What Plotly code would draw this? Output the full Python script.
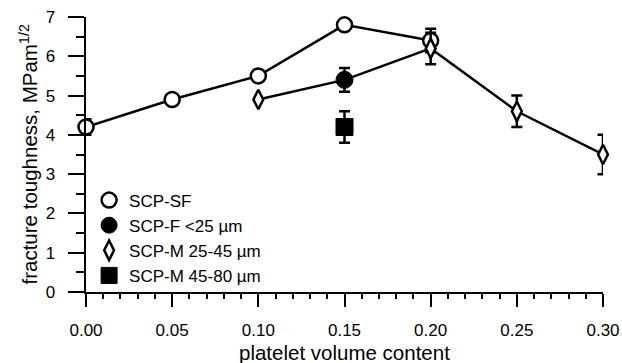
import plotly.graph_objects as go

# SCP-SF (open circles)
sf_x = [0.00, 0.05, 0.10, 0.15, 0.20]
sf_y = [4.2, 4.9, 5.5, 6.8, 6.4]
sf_err = [0.2, 0.0, 0.0, 0.1, 0.3]

# SCP-F <25 um (filled circle)
f_x = [0.15]
f_y = [5.4]
f_err = [0.3]

# SCP-M 25-45 um (diamonds)
m1_x = [0.10, 0.20, 0.25, 0.30]
m1_y = [4.9, 6.2, 4.6, 3.5]
m1_err = [0.0, 0.4, 0.4, 0.5]

# connecting line for F/M series
fm_line_x = [0.10, 0.15, 0.20, 0.25, 0.30]
fm_line_y = [4.9, 5.4, 6.2, 4.6, 3.5]

# SCP-M 45-80 um (filled square)
m2_x = [0.15]
m2_y = [4.2]
m2_err = [0.4]

x_ticks = [0.00, 0.05, 0.10, 0.15, 0.20, 0.25, 0.30]
x_labels = ["0.00", "0.05", "0.10", "0.15", "0.20", "0.25", "0.30"]
y_ticks = [0, 1, 2, 3, 4, 5, 6, 7]
y_labels = ["0", "1", "2", "3", "4", "5", "6", "7"]

x_title = "platelet volume content"
y_title = "fracture toughness, MPam<sup>1/2</sup>"

FONT = "Liberation Sans, Arial, sans-serif"
PAD = "\u00a0\u00a0"  # gap between y tick labels and ticks
fig = go.Figure()

fig.add_trace(go.Scatter(x=sf_x, y=sf_y, mode="lines", line=dict(color="black", width=2.5),
                         showlegend=False, hoverinfo="skip"))
fig.add_trace(go.Scatter(x=fm_line_x, y=fm_line_y, mode="lines", line=dict(color="black", width=2.5),
                         showlegend=False, hoverinfo="skip"))

err_style = dict(type="data", color="black", thickness=2.5, width=5.5)

fig.add_trace(go.Scatter(x=sf_x, y=sf_y, mode="markers", name="SCP-SF",
                         marker=dict(symbol="circle", size=15, color="white",
                                     line=dict(color="black", width=2.5)),
                         error_y=dict(array=sf_err, **err_style)))
fig.add_trace(go.Scatter(x=f_x, y=f_y, mode="markers", name="SCP-F <25 µm",
                         marker=dict(symbol="circle", size=17, color="black",
                                     line=dict(color="black", width=1)),
                         error_y=dict(array=f_err, **err_style)))
fig.add_trace(go.Scatter(x=m1_x, y=m1_y, mode="markers", name="SCP-M 25-45 µm",
                         marker=dict(symbol="diamond-tall", size=14, color="white",
                                     line=dict(color="black", width=2.5)),
                         error_y=dict(array=m1_err, **err_style)))
fig.add_trace(go.Scatter(x=m2_x, y=m2_y, mode="markers", name="SCP-M 45-80 µm",
                         marker=dict(symbol="square", size=17, color="black",
                                     line=dict(color="black", width=1)),
                         error_y=dict(array=m2_err, **err_style)))

fig.update_traces(cliponaxis=False)

fig.update_layout(
    width=622, height=363,
    margin=dict(l=86, r=19, t=17, b=71),
    paper_bgcolor="white", plot_bgcolor="white",
    font=dict(family=FONT, color="black", size=17),
    showlegend=True,
    legend=dict(x=0.006, y=0.398, xanchor="left", yanchor="top",
                bgcolor="rgba(0,0,0,0)", font=dict(size=17, family=FONT),
                itemsizing="trace", tracegroupgap=0),
    xaxis=dict(range=[0, 0.30], showgrid=False, zeroline=False, automargin=False,
               showline=True, linecolor="black", linewidth=2,
               ticks="outside", ticklen=13, tickwidth=2, tickcolor="black",
               tickvals=x_ticks, ticktext=x_labels, tickfont=dict(size=17),
               minor=dict(dtick=0.01, ticks="outside", ticklen=5, tickwidth=1.5, tickcolor="black"),
               ticklabelstandoff=9),
    yaxis=dict(range=[0, 7], showgrid=False, zeroline=False, automargin=False,
               showline=True, linecolor="black", linewidth=2,
               ticks="outside", ticklen=16, tickwidth=2, tickcolor="black",
               tickvals=y_ticks, ticktext=[t + PAD for t in y_labels], tickfont=dict(size=17),
               minor=dict(dtick=0.5, ticks="outside", ticklen=8, tickwidth=1.5, tickcolor="black")),
    annotations=[
        dict(text=x_title, xref="paper", yref="paper", x=0.5, y=0,
             xanchor="center", yanchor="middle", yshift=-60, showarrow=False,
             font=dict(size=20.5, family=FONT, color="black")),
        dict(text=y_title, xref="paper", yref="paper", x=0, y=0.5, textangle=-90,
             xanchor="center", yanchor="middle", xshift=-58, showarrow=False,
             font=dict(size=20.5, family=FONT, color="black")),
    ],
)

fig.write_html("out.html", config={"displayModeBar": False},
               post_script="document.body.style.margin='0';document.body.style.overflow='hidden';")
